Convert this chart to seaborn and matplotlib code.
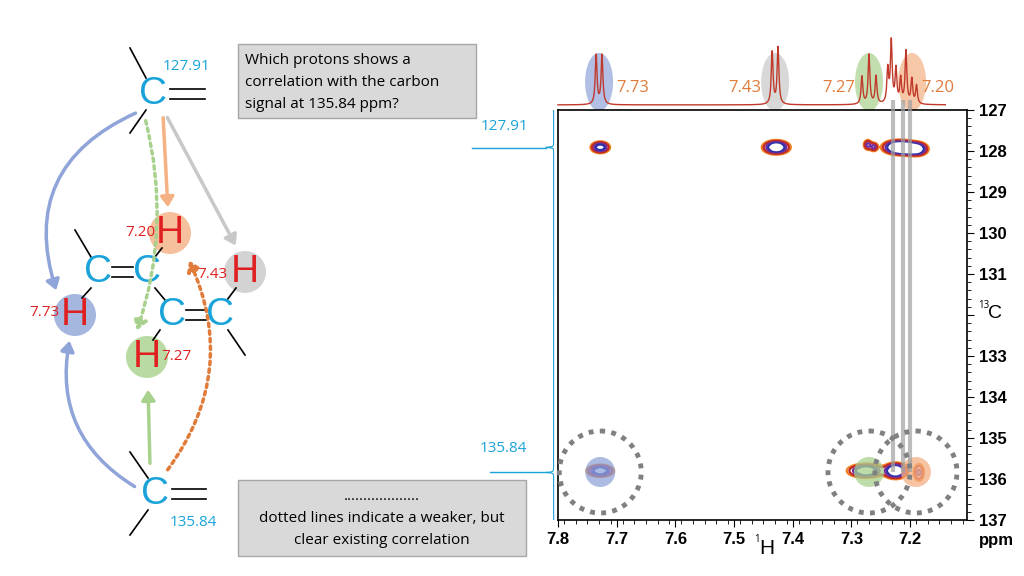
import numpy as np
import pandas as pd
import matplotlib
matplotlib.use("Agg")
import matplotlib.pyplot as plt
import seaborn as sns
from matplotlib.patches import Ellipse, Circle, FancyArrowPatch, Rectangle

plt.rcParams["font.family"] = "Open Sans"

# ---- data ----
h_labels = ["7.73", "7.43", "7.27", "7.20"]
h_shift = [7.73, 7.43, 7.27, 7.20]
h_colors = ["#8fa4d8", "#c8c8c8", "#a9d18e", "#f4b183"]
c_shifts = [127.91, 135.84]
# 1D proton lines: positions and heights
h1_pos = [7.735, 7.725, 7.435, 7.425, 7.282, 7.270, 7.258, 7.238, 7.232, 7.224, 7.216, 7.207, 7.197, 7.189]
h1_amp = [0.80, 0.80, 0.85, 0.92, 0.45, 0.80, 0.45, 0.55, 1.00, 0.55, 0.40, 0.85, 0.40, 0.30]
# cross peaks: H ppm, C ppm, intensity, width H, width C
pk_h = [7.728, 7.428, 7.272, 7.262, 7.222, 7.205, 7.188, 7.728, 7.275, 7.225, 7.185]
pk_c = [127.91, 127.91, 127.85, 127.90, 127.91, 127.93, 127.95, 135.80, 135.80, 135.80, 135.84]
pk_i = [0.7, 1.0, 0.35, 0.35, 1.2, 1.0, 0.9, 0.8, 0.9, 1.1, 0.35]
pk_sx = [0.008, 0.011, 0.004, 0.004, 0.012, 0.010, 0.009, 0.011, 0.015, 0.010, 0.005]
pk_sy = [0.07, 0.08, 0.07, 0.06, 0.08, 0.08, 0.08, 0.07, 0.08, 0.09, 0.12]

W, H = 1024, 576
fig = plt.figure(figsize=(10.24, 5.76), dpi=100)

def rect(x0, y0, x1, y1):
    return [x0 / W, 1 - y1 / H, (x1 - x0) / W, (y1 - y0) / H]

XL = (7.8, 7.103)
ax = fig.add_axes(rect(558, 110, 967, 520))
xx = np.linspace(7.10, 7.80, 800)
yy = np.linspace(127, 137, 600)
X, Y = np.meshgrid(xx, yy)
Z = np.zeros_like(X)
for a, b, i, sx, sy in zip(pk_h, pk_c, pk_i, pk_sx, pk_sy):
    Z += i * np.exp(-((X - a) ** 2 / (2 * sx ** 2) + (Y - b) ** 2 / (2 * sy ** 2)))
ax.contour(X, Y, Z, levels=[0.08, 0.15, 0.3, 0.45, 0.7],
           colors=["#f08020", "#c02828", "#7030a0", "#3030a8", "#ffffff"], linewidths=1.6, zorder=5)
ax.set_xlim(*XL)
ax.set_ylim(137, 127)
ax.yaxis.tick_right()
ax.set_yticks(range(127, 138))
ax.set_yticklabels([str(v) if v != 132 else "" for v in range(127, 138)])
ax.set_xticks([7.8, 7.7, 7.6, 7.5, 7.4, 7.3, 7.2])
ax.set_xticklabels(["7.8", "7.7", "7.6", "7.5", "7.4", "7.3", "7.2"])
ax.set_xticks(np.arange(7.11, 7.8, 0.02), minor=True)
ax.set_yticks(np.arange(127, 137.01, 0.2), minor=True)
for lab in ax.get_xticklabels() + ax.get_yticklabels():
    lab.set_fontweight("bold"); lab.set_fontsize(12); lab.set_fontfamily("Liberation Sans")
ax.tick_params(direction="out", length=5)
ax.tick_params(which="minor", length=3)
for s in ax.spines.values():
    s.set_linewidth(1.2)

# top 1D spectrum
axt = fig.add_axes(rect(558, 40, 967, 108))
xs = np.linspace(7.14, 7.812, 3000)
ys = np.zeros_like(xs)
for p, a in zip(h1_pos, h1_amp):
    ys += a / (1 + ((xs - p) / 0.0018) ** 2)
sns.lineplot(x=xs, y=ys, ax=axt, color="#c0392b", linewidth=1.0)
axt.set_xlim(*XL); axt.set_ylim(-0.05, 1.05)
axt.axis("off")
for ln in axt.lines:
    ln.set_clip_on(False)

# left 1D carbon trace
axl = fig.add_axes(rect(538, 110, 556, 520))
yc = np.linspace(127, 137, 2000)
xc = np.zeros_like(yc)
for c in c_shifts:
    xc += 1 / (1 + ((yc - c) / 0.01) ** 2)
axl.plot(-xc * 0.5, yc, color="#1aa3d9", linewidth=0.8)
axl.set_ylim(137, 127); axl.set_xlim(-1.0, 0.15)
axl.axis("off")

# overlay in pixel coords
ov = fig.add_axes([0, 0, 1, 1], zorder=-1)
ov.set_xlim(0, W); ov.set_ylim(H, 0); ov.axis("off")
ov2 = fig.add_axes([0, 0, 1, 1], zorder=10)
ov2.set_xlim(0, W); ov2.set_ylim(H, 0); ov2.axis("off")

def px(h):
    return 558 + (7.8 - h) / (7.8 - 7.103) * 409

for hs, col in zip(h_shift, h_colors):
    ov.add_patch(Ellipse((px(hs) + (2 if hs == 7.20 else 0), 82), 28, 58, color=col, alpha=0.7, lw=0))
for hs, lab, dx in zip(h_shift, h_labels, [34, -30, -30, 28]):
    ov2.text(px(hs) + dx, 88, lab, color="#e07b39", fontsize=12, ha="center", va="center")
for xg in [893, 903, 910]:
    ov2.plot([xg, xg], [100, 472], color="#a0a0a0", lw=3, alpha=0.7, solid_capstyle="butt", zorder=1)
for hs, col in [(7.728, h_colors[0]), (7.27, h_colors[2]), (7.19, h_colors[3])]:
    ov2.add_patch(Circle((px(hs), 472), 15, color=col, alpha=0.75, lw=0, zorder=0))
for hs in [7.728, 7.27, 7.19]:
    ov2.add_patch(Circle((px(hs), 472), 41, fill=False, ec="#808080", lw=3.5, ls=(0, (1, 1.3))))
ov2.text(505, 127, "127.91", color="#1aa3d9", fontsize=11, ha="center", va="center")
ov2.plot([472, 546], [148, 148], color="#1aa3d9", lw=1)
ov2.text(503, 449, "135.84", color="#1aa3d9", fontsize=11, ha="center", va="center")
ov2.plot([490, 546], [472, 472], color="#1aa3d9", lw=1)
ov2.text(995, 313, "C", fontsize=14, ha="center", va="center", fontfamily="Liberation Sans")
ov2.text(984, 305, "13", fontsize=7, ha="center", va="center")
ov2.text(767, 549, "H", fontsize=15, ha="center", va="center", fontfamily="Liberation Sans")
ov2.text(757, 540, "1", fontsize=7, ha="center", va="center")
ov2.text(996, 540, "ppm", fontsize=12, fontweight="bold", ha="center", va="center", fontfamily="Liberation Sans")

ov2.add_patch(Rectangle((238, 44), 238, 74, fc="#d9d9d9", ec="#a6a6a6", lw=1))
for i, t in enumerate(["Which protons shows a", "correlation with the carbon", "signal at 135.84 ppm?"]):
    ov2.text(245, 60 + 22 * i, t, fontsize=11, va="center")
ov2.add_patch(Rectangle((238, 480), 288, 76, fc="#d9d9d9", ec="#a6a6a6", lw=1))
for i, t in enumerate(["...................", "dotted lines indicate a weaker, but", "clear existing correlation"]):
    ov2.text(382, 497 + 22 * i, t, fontsize=11, va="center", ha="center")

cyan = "#1aa3d9"
def C(x, y):
    ov2.text(x, y, "C", color=cyan, fontsize=28, ha="center", va="center", fontfamily="Liberation Sans")
def L(x0, y0, x1, y1):
    ov2.plot([x0, x1], [y0, y1], color="black", lw=1.2)
def Hh(x, y, col):
    ov2.add_patch(Circle((x, y), 21, color=col, alpha=0.8, lw=0))
    ov2.text(x, y, "H", color="#e02020", fontsize=28, ha="center", va="center", fontfamily="Liberation Sans")

C(153, 94); L(130, 48, 146, 78); L(146, 110, 130, 133); L(170, 89, 205, 89); L(170, 99, 205, 99)
ov2.text(187, 67, "127.91", color=cyan, fontsize=11, ha="center", va="center")
C(155, 494); L(130, 452, 148, 478); L(148, 510, 130, 535); L(172, 489, 206, 489); L(172, 499, 206, 499)
ov2.text(193, 522, "135.84", color=cyan, fontsize=11, ha="center", va="center")
C(98, 272); C(147, 272); C(172, 315); C(220, 315)
L(112, 267, 133, 267); L(112, 277, 133, 277); L(186, 310, 206, 310); L(186, 320, 206, 320)
L(75, 230, 91, 257); L(155, 257, 162, 248); L(155, 288, 165, 300); L(91, 288, 82, 298)
L(160, 330, 153, 340); L(227, 300, 236, 288); L(228, 330, 245, 355)
Hh(170, 233, h_colors[3]); ov2.text(140, 232, "7.20", color="#e02020", fontsize=11, ha="center", va="center")
Hh(245, 272, h_colors[1]); ov2.text(212, 275, "7.43", color="#e02020", fontsize=11, ha="center", va="center")
Hh(75, 315, h_colors[0]); ov2.text(44, 313, "7.73", color="#e02020", fontsize=11, ha="center", va="center")
Hh(147, 357, h_colors[2]); ov2.text(176, 357, "7.27", color="#e02020", fontsize=11, ha="center", va="center")

def arr(p0, p1, col, rad=0.0, dotted=False):
    a = FancyArrowPatch(p0, p1, connectionstyle=f"arc3,rad={rad}", arrowstyle="-|>,head_length=6,head_width=4",
                        color=col, lw=2.5, ls=(0, (1, 1.2)) if dotted else "-", zorder=3)
    ov2.add_patch(a)

arr((138, 112), (57, 293), "#8fa4d8", rad=0.45)
arr((145, 118), (136, 333), "#a9d18e", rad=-0.15, dotted=True)
arr((163, 115), (168, 210), "#f4b183")
arr((166, 115), (237, 248), "#c8c8c8")
arr((137, 488), (70, 338), "#8fa4d8", rad=-0.35)
arr((150, 466), (148, 387), "#a9d18e")
arr((166, 472), (188, 258), "#e07b39", rad=0.3, dotted=True)

fig.savefig("out.png", dpi=100)
